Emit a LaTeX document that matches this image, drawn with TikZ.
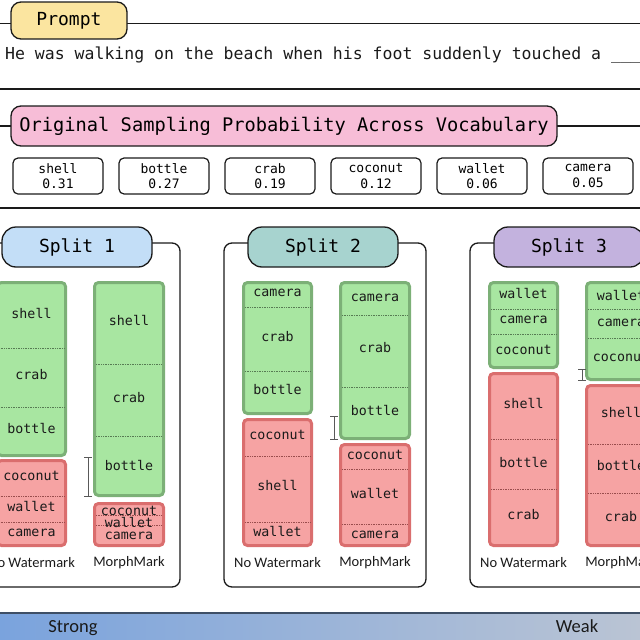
\documentclass[tikz,border=0pt]{standalone}
\usepackage{fontspec}
\setmonofont{DejaVu Sans Mono}
\newfontfamily\sidefont{Carlito}
\usetikzlibrary{arrows.meta}
\definecolor{promptfill}{HTML}{FBE5A0}
\definecolor{vocabfill}{HTML}{F7BDD7}
\definecolor{splitone}{HTML}{C3DEF7}
\definecolor{splittwo}{HTML}{A7D3CF}
\definecolor{splitthree}{HTML}{C3B2DE}
\definecolor{gfill}{HTML}{A8E6A1}
\definecolor{gline}{HTML}{7CB077}
\definecolor{rfill}{HTML}{F6A3A3}
\definecolor{rline}{HTML}{DA6E6E}
\definecolor{barleft}{HTML}{7AA3DD}
\definecolor{barright}{HTML}{BAC4D4}
\definecolor{barline}{HTML}{3E4F66}
\definecolor{ink}{HTML}{1A1A1A}
\tikzset{
    rule/.style = {draw=ink, line width=1.3pt},
    pill/.style = {draw=ink, line width=1.3pt, rounded corners=14pt, inner sep=0pt,
        font=\ttfamily\fontsize{18}{20}\selectfont},
    probbox/.style = {draw=ink, line width=1.2pt, rounded corners=5pt, inner sep=0pt,
        minimum width=90pt, minimum height=36pt, align=center,
        font=\ttfamily\fontsize{13}{15.5}\selectfont},
    splitbox/.style = {draw=ink, line width=1.3pt, rounded corners=8pt},
    keepbar/.style = {fill=gfill, draw=gline, line width=3pt, rounded corners=4pt},
    dropbar/.style = {fill=rfill, draw=rline, line width=3pt, rounded corners=4pt},
    cutg/.style = {densely dotted, draw=gline!70!black, line width=0.7pt},
    cutr/.style = {densely dotted, draw=rline!70!black, line width=0.7pt},
    tok/.style = {inner sep=0pt, text height=9.5pt, text depth=2.5pt, text=ink,
        font=\ttfamily\fontsize{13.3}{13.3}\selectfont},
    method/.style = {inner sep=0pt, text=ink, font=\sidefont\fontsize{14.5}{14.5}\selectfont},
    strength/.style = {anchor=base, inner sep=0pt, text=ink, font=\sidefont\fontsize{18.5}{18.5}\selectfont},
    shiftbar/.style = {draw=black!65, line width=0.9pt, arrows={Bar[width=8pt]-Bar[width=8pt]}}
}
\begin{document}
\begin{tikzpicture}[x=1pt, y=-1pt]
    \useasboundingbox (0,0) rectangle (640,640);
    \clip (0,0) rectangle (640,640);
    % prompt
    \draw[rule] (0,23.5) -- (640,23.5);
    \node[pill, fill=promptfill, rounded corners=10pt, minimum width=116pt, minimum height=37pt] (prompt) at (69,20.5) {Prompt};
    \node[anchor=west, inner sep=0pt, text=ink, font=\ttfamily\fontsize{16.5}{18}\selectfont] (sentence) at (5,55) {He was walking on the beach when his foot suddenly touched a \_\_\_\_};
    \draw[rule] (0,89) -- (640,89);
    % vocabulary
    \draw[rule] (0,126) -- (640,126);
    \node[pill, fill=vocabfill, rounded corners=10pt, minimum width=546pt, minimum height=40pt, font=\ttfamily\fontsize{18.7}{20}\selectfont] (vocab) at (284,126) {Original Sampling Probability Across Vocabulary};
    \node[probbox] (pshell) at (58,176) {shell\\0.31};
    \node[probbox] (pbottle) at (164,176) {bottle\\0.27};
    \node[probbox] (pcrab) at (270,176) {crab\\0.19};
    \node[probbox] (pcoconut) at (376,176) {coconut\\0.12};
    \node[probbox] (pwallet) at (482,176) {wallet\\0.06};
    \node[probbox] (pcamera) at (588,176) {camera\\0.05};
    \draw[rule] (0,208) -- (640,208);
    % split 1
    \draw[splitbox] (-22,243) rectangle (180,587);
    \node[pill, fill=splitone, minimum width=150pt, minimum height=40pt] (split1) at (77,247) {Split 1};
    \draw[keepbar] (-2.5,282.5) rectangle (65.5,455.5);
    \draw[cutg] (-1,348) -- (64,348);
    \draw[cutg] (-1,407) -- (64,407);
    \node[tok] (a1) at (31.5,315) {shell};
    \node[tok] (a2) at (31.5,376) {crab};
    \node[tok] (a3) at (31.5,430) {bottle};
    \draw[dropbar] (-2.5,460.5) rectangle (65.5,545.5);
    \draw[cutr] (-1,496) -- (64,496);
    \draw[cutr] (-1,522) -- (64,522);
    \node[tok] (a4) at (31.5,477) {coconut};
    \node[tok] (a5) at (31.5,508) {wallet};
    \node[tok] (a6) at (31.5,533) {camera};
    \draw[keepbar] (94.5,282.5) rectangle (163.5,495.5);
    \draw[cutg] (96,364) -- (162,364);
    \draw[cutg] (96,436) -- (162,436);
    \node[tok] (b1) at (129,322) {shell};
    \node[tok] (b2) at (129,399) {crab};
    \node[tok] (b3) at (129,467) {bottle};
    \draw[dropbar] (94.5,503.5) rectangle (163.5,545.5);
    \draw[cutr] (96,515) -- (162,515);
    \draw[cutr] (96,525) -- (162,525);
    \node[tok] (b4) at (129,512) {coconut};
    \node[tok] (b5) at (129,524) {wallet};
    \node[tok] (b6) at (129,536) {camera};
    \coordinate (s1top) at (88,457);
    \coordinate (s1bot) at (88,497);
    \draw[shiftbar] (s1top) -- (s1bot);
    \node[method] (nw1) at (31.5,563) {No Watermark};
    \node[method] (mm1) at (129,563) {MorphMark};
    % split 2
    \draw[splitbox] (224,243) rectangle (426,587);
    \node[pill, fill=splittwo, minimum width=150pt, minimum height=40pt] (split2) at (323,247) {Split 2};
    \draw[keepbar] (243.5,282.5) rectangle (311.5,413.5);
    \draw[cutg] (245,307) -- (310,307);
    \draw[cutg] (245,371) -- (310,371);
    \node[tok] (c1) at (277.5,293) {camera};
    \node[tok] (c2) at (277.5,338) {crab};
    \node[tok] (c3) at (277.5,391) {bottle};
    \draw[dropbar] (243.5,419.5) rectangle (311.5,545.5);
    \draw[cutr] (245,456) -- (310,456);
    \draw[cutr] (245,522) -- (310,522);
    \node[tok] (c4) at (277.5,436) {coconut};
    \node[tok] (c5) at (277.5,487) {shell};
    \node[tok] (c6) at (277.5,533) {wallet};
    \draw[keepbar] (340.5,282.5) rectangle (409.5,438.5);
    \draw[cutg] (342,315) -- (408,315);
    \draw[cutg] (342,387) -- (408,387);
    \node[tok] (d1) at (375,298) {camera};
    \node[tok] (d2) at (375,349) {crab};
    \node[tok] (d3) at (375,412) {bottle};
    \draw[dropbar] (340.5,444.5) rectangle (409.5,545.5);
    \draw[cutr] (342,469) -- (408,469);
    \draw[cutr] (342,524) -- (408,524);
    \node[tok] (d4) at (375,456) {coconut};
    \node[tok] (d5) at (375,495) {wallet};
    \node[tok] (d6) at (375,535) {camera};
    \coordinate (s2top) at (334,416);
    \coordinate (s2bot) at (334,440);
    \draw[shiftbar] (s2top) -- (s2bot);
    \node[method] (nw2) at (277.5,563) {No Watermark};
    \node[method] (mm2) at (375,563) {MorphMark};
    % split 3
    \draw[splitbox] (470,243) rectangle (672,587);
    \node[pill, fill=splitthree, minimum width=150pt, minimum height=40pt] (split3) at (569,247) {Split 3};
    \draw[keepbar] (489.5,282.5) rectangle (557.5,367.5);
    \draw[cutg] (491,309) -- (556,309);
    \draw[cutg] (491,334) -- (556,334);
    \node[tok] (e1) at (523.5,295) {wallet};
    \node[tok] (e2) at (523.5,320) {camera};
    \node[tok] (e3) at (523.5,351) {coconut};
    \draw[dropbar] (489.5,373.5) rectangle (557.5,545.5);
    \draw[cutr] (491,439) -- (556,439);
    \draw[cutr] (491,489) -- (556,489);
    \node[tok] (e4) at (523.5,405) {shell};
    \node[tok] (e5) at (523.5,464) {bottle};
    \node[tok] (e6) at (523.5,516) {crab};
    \draw[keepbar] (586.5,282.5) rectangle (655.5,379.5);
    \draw[cutg] (588,309) -- (654,309);
    \draw[cutg] (588,338) -- (654,338);
    \node[tok] (f1) at (621,297) {wallet};
    \node[tok] (f2) at (621,323) {camera};
    \node[tok] (f3) at (621,358) {coconut};
    \draw[dropbar] (586.5,385.5) rectangle (655.5,545.5);
    \draw[cutr] (588,444) -- (654,444);
    \draw[cutr] (588,493) -- (654,493);
    \node[tok] (f4) at (621,414) {shell};
    \node[tok] (f5) at (621,467) {bottle};
    \node[tok] (f6) at (621,518) {crab};
    \coordinate (s3top) at (582,369);
    \coordinate (s3bot) at (582,381);
    \draw[shiftbar] (s3top) -- (s3bot);
    \node[method] (nw3) at (523.5,563) {No Watermark};
    \node[method] (mm3) at (621,563) {MorphMark};
    % strength bar
    \shade[left color=barleft, right color=barright] (0,613) rectangle (640,641);
    \draw[draw=barline, line width=1.5pt] (0,613) -- (640,613);
    \node[strength] (strong) at (73,632) {Strong};
    \node[strength] (weak) at (577,632) {Weak};
\end{tikzpicture}
\end{document}
